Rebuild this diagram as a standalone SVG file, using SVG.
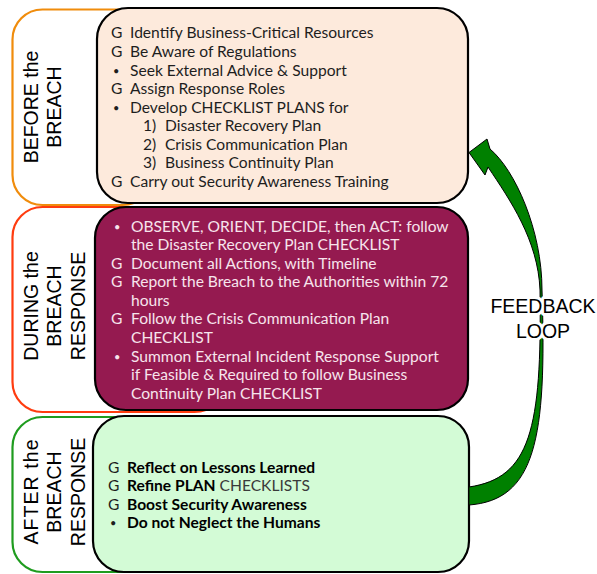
<svg xmlns="http://www.w3.org/2000/svg" width="597" height="574" viewBox="0 0 597 574">
<style>
.outer{fill:#fff;stroke-width:2.2}
.inner{stroke:#000;stroke-width:2.2}
.t{font-family:Lato,"Open Sans","Liberation Sans",sans-serif;font-size:15.6px}
.bu{font-size:11px}
.dark{fill:#1e1e1e}
.light{fill:#f7e4ec}
.b{font-weight:bold;fill:#000}
.lab{font-family:"Liberation Sans",Arial,sans-serif;font-size:19.5px;fill:#000}
.fb{font-family:"Liberation Sans",Arial,sans-serif;font-size:19.5px;fill:#000;stroke:#fff;stroke-width:6;paint-order:stroke;stroke-linejoin:round;text-anchor:middle}
</style>
<rect width="597" height="574" fill="#fff"/>
<g id="outer-before"><rect class="outer" x="12.5" y="9.5" width="140" height="195.5" rx="30" stroke="#f08c0c"/></g>
<g id="outer-during"><rect class="outer" x="12.5" y="207" width="212" height="205" rx="30" stroke="#ff3c0f"/></g>
<g id="outer-after"><rect class="outer" x="12.5" y="417" width="140" height="155" rx="30" stroke="#1f9c1f"/></g>
<g id="before">
<rect class="inner" x="97" y="8" width="371" height="195" rx="31" fill="#fdeadc"/>
<g class="t dark">
<text x="111" y="38">G</text><text x="130" y="38">Identify Business-Critical Resources</text>
<text x="111" y="57">G</text><text x="130" y="57">Be Aware of Regulations</text>
<text class="bu" x="113" y="75">•</text><text x="130" y="76">Seek External Advice &amp; Support</text>
<text x="111" y="94">G</text><text x="130" y="94">Assign Response Roles</text>
<text class="bu" x="113" y="112">•</text><text x="130" y="113">Develop CHECKLIST PLANS for</text>
<text x="143" y="131">1)</text><text x="165" y="131">Disaster Recovery Plan</text>
<text x="143" y="150">2)</text><text x="165" y="150">Crisis Communication Plan</text>
<text x="143" y="168">3)</text><text x="165" y="168">Business Continuity Plan</text>
<text x="111" y="187">G</text><text x="130" y="187">Carry out Security Awareness Training</text>
</g>
<text class="lab" transform="translate(38,107) rotate(-90)" text-anchor="middle">BEFORE the</text>
<text class="lab" transform="translate(61,107) rotate(-90)" text-anchor="middle">BREACH</text>
</g>
<g id="during">
<rect class="inner" x="95" y="207" width="373" height="203" rx="31" fill="#951a50"/>
<g class="t light">
<text class="bu" x="114" y="231">•</text><text x="131" y="232">OBSERVE, ORIENT, DECIDE, then ACT: follow</text>
<text x="131" y="250">the Disaster Recovery Plan CHECKLIST</text>
<text x="111" y="269">G</text><text x="131" y="269">Document all Actions, with Timeline</text>
<text x="111" y="287">G</text><text x="131" y="287">Report the Breach to the Authorities within 72</text>
<text x="131" y="306">hours</text>
<text x="111" y="324">G</text><text x="131" y="324">Follow the Crisis Communication Plan</text>
<text x="131" y="343">CHECKLIST</text>
<text class="bu" x="114" y="361">•</text><text x="131" y="362">Summon External Incident Response Support</text>
<text x="131" y="380">if Feasible &amp; Required to follow Business</text>
<text x="131" y="399">Continuity Plan CHECKLIST</text>
</g>
<text class="lab" transform="translate(38,306) rotate(-90)" text-anchor="middle">DURING the</text>
<text class="lab" transform="translate(61,306) rotate(-90)" text-anchor="middle">BREACH</text>
<text class="lab" transform="translate(85,306) rotate(-90)" text-anchor="middle">RESPONSE</text>
</g>
<g id="after">
<rect class="inner" x="93" y="416" width="376" height="156" rx="31" fill="#d3fbd6"/>
<g class="t">
<text class="dark" x="108" y="473">G</text><text class="b" x="127" y="473">Reflect on Lessons Learned</text>
<text class="dark" x="108" y="491">G</text><text x="127" y="491"><tspan class="b">Refine PLAN</tspan><tspan fill="#3a3a3a"> CHECKLISTS</tspan></text>
<text class="dark" x="108" y="510">G</text><text class="b" x="127" y="510">Boost Security Awareness</text>
<text class="dark bu" x="110" y="527">•</text><text class="b" x="127" y="528">Do not Neglect the Humans</text>
</g>
<text class="lab" transform="translate(38,492) rotate(-90)" text-anchor="middle" textLength="105" lengthAdjust="spacing">AFTER  the</text>
<text class="lab" transform="translate(61,492) rotate(-90)" text-anchor="middle">BREACH</text>
<text class="lab" transform="translate(85,492) rotate(-90)" text-anchor="middle">RESPONSE</text>
</g>
<g id="connectors">
<path d="M469,487 C530,478 542,430 540,290 C538,240 510,200 488,167 L485,175 L469,152.5 L487,139 L490,149 C515,170 542,230 542,290 C547,440 535,500 469,505 Z" fill="#008000" stroke="#000" stroke-width="1" stroke-linejoin="miter"/>
<g id="feedback-label">
<text class="fb" x="543" y="313">FEEDBACK</text>
<text class="fb" x="543" y="338">LOOP</text>
</g>
</g>
</svg>
